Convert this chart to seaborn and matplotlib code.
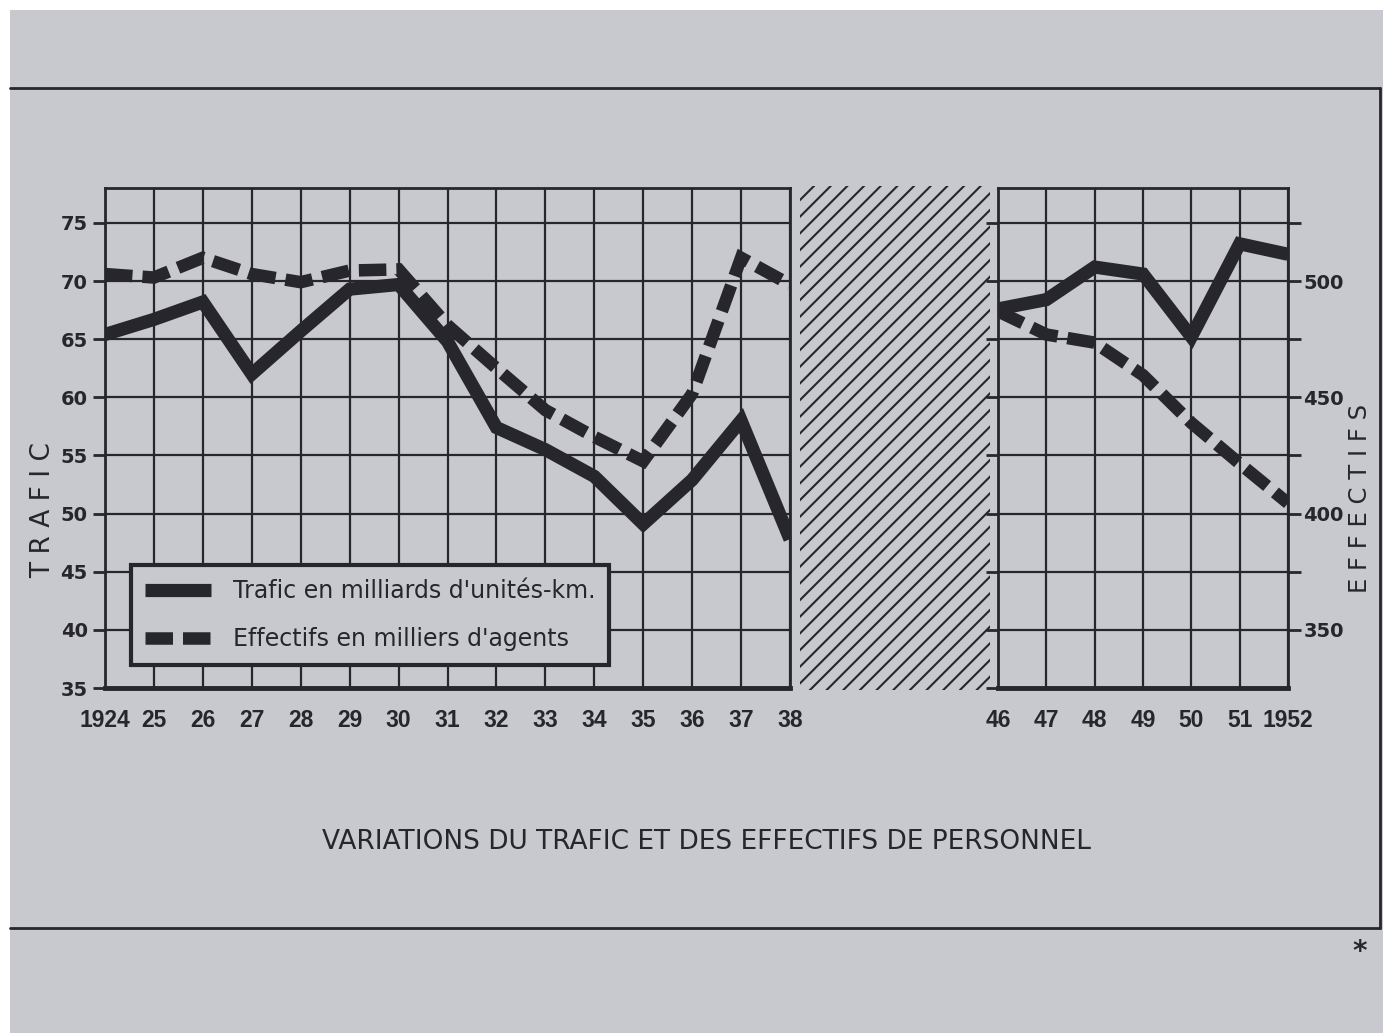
import matplotlib
matplotlib.use("Agg")
import matplotlib.pyplot as plt
import seaborn as sns
from matplotlib.patches import Rectangle

# data
years_a = [1924, 1925, 1926, 1927, 1928, 1929, 1930, 1931, 1932, 1933, 1934, 1935, 1936, 1937, 1938]
trafic_a = [65.4, 66.7, 68.2, 62.0, 65.7, 69.3, 69.7, 64.8, 57.4, 55.5, 53.2, 49.1, 52.9, 58.0, 47.8]
effectifs_a = [503, 501.5, 510, 503, 499.5, 504.5, 505, 481, 462.5, 444.5, 433, 422.5, 451.5, 510, 498.5]
labels_a = ["1924", "25", "26", "27", "28", "29", "30", "31", "32", "33", "34", "35", "36", "37", "38"]

years_b = [1946, 1947, 1948, 1949, 1950, 1951, 1952]
trafic_b = [67.6, 68.4, 71.2, 70.6, 65.2, 73.2, 72.3]
effectifs_b = [487, 477, 473.5, 459.5, 439, 421.5, 404.5]
labels_b = ["46", "47", "48", "49", "50", "51", "1952"]

trafic_ticks = [35, 40, 45, 50, 55, 60, 65, 70, 75]
eff_ticks = [350, 375, 400, 425, 450, 475, 500, 525]
eff_labels = ["350", "", "400", "", "450", "", "500", ""]

W, H = 1383, 1033
paper = "#c8c9ce"
ink = "#26262c"

sns.set_theme(style="white")
plt.rcParams["font.family"] = ["DejaVu Sans"]
plt.rcParams["hatch.linewidth"] = 1.5


def box(x0, y0, x1, y1):
    return [x0 / W, 1 - y1 / H, (x1 - x0) / W, (y1 - y0) / H]


fig = plt.figure(figsize=(W / 100, H / 100), dpi=100, facecolor="white")

# paper + outer frame
bg = fig.add_axes([0, 0, 1, 1], zorder=-5)
bg.set_xlim(0, W)
bg.set_ylim(H, 0)
bg.axis("off")
bg.add_patch(Rectangle((10, 10), W - 10, H - 10, facecolor=paper, edgecolor="none"))
bg.plot([10, 1380], [88, 88], color=ink, lw=2)
bg.plot([1380, 1380], [88, 928], color=ink, lw=2)
bg.plot([10, 1380], [928, 928], color=ink, lw=2)

ax_a = fig.add_axes(box(105, 188, 790, 688))
ax_b = fig.add_axes(box(998, 188, 1288, 688))
tw_a = ax_a.twinx()
tw_b = ax_b.twinx()

solid_kw = dict(color=ink, lw=9.5, legend=False, solid_joinstyle="miter", solid_capstyle="butt")
dash_kw = dict(color=ink, lw=9, legend=False, linestyle=(0, (2.2, 0.8)),
               dash_capstyle="butt", dash_joinstyle="miter")

sns.lineplot(x=years_a, y=trafic_a, ax=ax_a, label="Trafic en milliards d'unités-km.", **solid_kw)
sns.lineplot(x=years_a, y=effectifs_a, ax=tw_a, label="Effectifs en milliers d'agents", **dash_kw)
sns.lineplot(x=years_b, y=trafic_b, ax=ax_b, **solid_kw)
sns.lineplot(x=years_b, y=effectifs_b, ax=tw_b, **dash_kw)

for ax, yrs, lbls in [(ax_a, years_a, labels_a), (ax_b, years_b, labels_b)]:
    ax.set_facecolor("none")
    ax.set_xlim(yrs[0], yrs[-1])
    ax.set_ylim(35, 78)
    ax.set_xticks(yrs, labels=lbls)
    ax.set_yticks(trafic_ticks)
    ax.set_xlabel("")
    ax.set_ylabel("")
    ax.grid(True, color=ink, lw=1.6)
    for s in ax.spines.values():
        s.set_color(ink)
        s.set_linewidth(2)
    ax.spines["bottom"].set_linewidth(3.5)
    ax.tick_params(direction="out", length=9, width=2, color=ink, labelcolor=ink)
    ax.tick_params(axis="x", pad=6)
    for t in ax.get_xticklabels():
        t.set_fontfamily(["Liberation Sans", "DejaVu Sans"])
        t.set_fontweight("bold")
        t.set_fontsize(16.5)
    for t in ax.get_yticklabels():
        t.set_fontweight("bold")
        t.set_fontsize(14)

ax_b.tick_params(axis="y", labelleft=False)

for tw in (tw_a, tw_b):
    tw.set_ylim(325, 540)
    tw.grid(False)
    tw.set_ylabel("")
    for s in tw.spines.values():
        s.set_visible(False)

tw_a.set_yticks([])
tw_b.set_yticks(eff_ticks, labels=eff_labels)
tw_b.tick_params(axis="y", direction="out", length=9, width=2, color=ink, labelcolor=ink, pad=2)
for t in tw_b.get_yticklabels():
    t.set_fontweight("bold")
    t.set_fontsize(14)

# hatched gap for the war years
mid = fig.add_axes(box(800, 186, 990, 690))
mid.axis("off")
mid.add_patch(Rectangle((0, 0), 1, 1, transform=mid.transAxes, fill=False, hatch="//",
                        edgecolor=ink, lw=0))

leg = tw_a.legend(handles=[ax_a.get_lines()[0], tw_a.get_lines()[0]],
                  loc="lower left", bbox_to_anchor=(0.038, 0.046), borderaxespad=0,
                  frameon=True, fancybox=False, edgecolor=ink, facecolor=paper, framealpha=1,
                  fontsize=17, handlelength=2.8, handletextpad=0.9, labelspacing=1.0,
                  borderpad=0.6)
leg.get_frame().set_linewidth(3)
for t in leg.get_texts():
    t.set_color(ink)

fig.text(43 / W, 1 - 510 / H, "T R A F I C", rotation=90, ha="center", va="center",
         fontsize=19, color=ink)
fig.text(1360 / W, 1 - 498 / H, "E F F E C T I F S", rotation=90, ha="center", va="center",
         fontsize=17.5, color=ink)
fig.text(707 / W, 1 - 842 / H, "VARIATIONS DU TRAFIC ET DES EFFECTIFS DE PERSONNEL",
         ha="center", va="center", fontsize=19, color=ink)
fig.text(1360 / W, 1 - 952 / H, "*", ha="center", va="center", fontsize=20,
         fontweight="bold", color=ink)

fig.savefig("out.png", dpi=100, facecolor=fig.get_facecolor())
